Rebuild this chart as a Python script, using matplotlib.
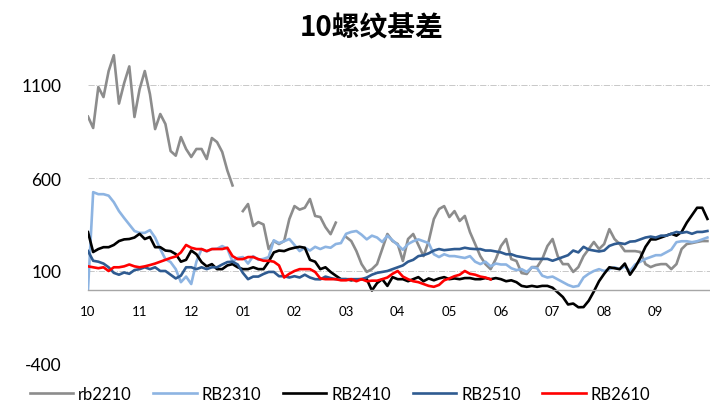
import numpy as np
import matplotlib
matplotlib.use("Agg")
import matplotlib.pyplot as plt

nan = np.nan

# month labels, 10 samples per month (Oct .. Sep)
months = ["10", "11", "12", "01", "02", "03", "04", "05", "06", "07", "08", "09"]
steps_per_month = 10

rb2210 = [930, 869, 1089, 1035, 1175, 1260, 1000, 1110, 1200, 928,
          1078, 1175, 1051, 863, 944, 890, 745, 720, 820, 756,
          713, 756, 756, 702, 815, 793, 740, 640, 560, nan,
          422, 460, 342, 363, 350, 218, 261, 245, 261, 379,
          449, 430, 440, 487, 396, 390, 336, 298, 360, nan,
          283, 261, 207, 137, 95, 110, 137, 218, 299, 261,
          245, 154, 272, 299, 240, 180, 260, 379, 433, 449,
          390, 422, 369, 396, 309, 245, 180, 137, 110, 164,
          234, 272, 164, 154, 89, 84, 121, 121, 164, 234,
          272, 180, 137, 137, 95, 121, 180, 218, 256, 218,
          245, 325, 272, 245, 207, 207, 207, 202, 137, 121,
          132, 137, 137, 110, 137, 218, 245, 250, 256, 261,
          261]

rb2310 = [0, 524, 513, 513, 505, 470, 422, 385, 350, 315,
          305, 305, 320, 280, 218, 164, 148, 110, 40, 70,
          30, 150, 218, 205, 218, 220, 234, 220, 150, 170,
          175, 140, 180, 160, 165, 175, 265, 250, 260, 272,
          240, 207, 225, 210, 230, 218, 230, 225, 245, 250,
          300, 310, 315, 295, 270, 290, 280, 256, 290, 265,
          240, 214, 245, 260, 270, 260, 250, 190, 175, 190,
          180, 180, 175, 170, 180, 150, 137, 150, 125, 140,
          135, 135, 115, 105, 110, 95, 120, 115, 75, 65,
          70, 55, 40, 25, 15, 20, 65, 85, 100, 110,
          100, 110, 120, 110, 125, 100, 135, 150, 165, 175,
          185, 185, 200, 215, 255, 260, 260, 255, 260, 270,
          280]

rb2410 = [309, 202, 218, 228, 228, 240, 261, 270, 272, 280,
          300, 272, 283, 228, 228, 210, 207, 191, 150, 160,
          210, 190, 148, 125, 137, 110, 110, 130, 137, 120,
          110, 110, 120, 110, 110, 150, 200, 210, 207, 218,
          225, 230, 225, 160, 150, 110, 120, 95, 75, 56,
          56, 50, 55, 56, 56, -5, 35, 56, 20, 67,
          56, 56, 45, 56, 67, 45, 60, 50, 60, 67,
          56, 60, 56, 62, 62, 56, 56, 62, 56, 62,
          56, 45, 50, 40, 20, 15, 20, 15, 20, 20,
          10, -15, -40, -80, -75, -95, -94, -60, -10, 45,
          85, 120, 115, 110, 140, 80, 120, 170, 230, 270,
          270, 280, 290, 300, 290, 310, 360, 400, 440, 440,
          380]

rb2510 = [207, 155, 150, 140, 120, 90, 80, 92, 85, 105,
          110, 120, 110, 120, 100, 100, 80, 60, 75, 120,
          120, 110, 120, 110, 120, 120, 135, 148, 150, 135,
          90, 56, 70, 70, 84, 95, 95, 72, 72, 65,
          72, 65, 80, 65, 56, 55, 70, 62, 56, 56,
          56, 56, 56, 56, 65, 80, 90, 95, 100, 110,
          120, 130, 150, 160, 180, 185, 195, 210, 218, 212,
          215, 218, 218, 225, 220, 218, 218, 210, 210, 205,
          200, 190, 190, 180, 175, 170, 165, 165, 165, 165,
          155, 165, 175, 185, 210, 200, 230, 215, 210, 205,
          210, 235, 245, 250, 245, 258, 260, 270, 280, 285,
          280, 290, 290, 300, 310, 305, 310, 300, 310, 310,
          315]

# RB2610 only runs until late May
rb2610 = [125, 120, 115, 120, 100, 120, 120, 125, 135, 125,
          120, 125, 132, 140, 150, 160, 170, 178, 200, 240,
          225, 218, 218, 207, 218, 218, 218, 225, 180, 164,
          164, 175, 175, 164, 155, 155, 150, 130, 65, 85,
          100, 110, 110, 110, 95, 60, 56, 56, 56, 50,
          50, 56, 45, 56, 45, 48, 48, 56, 65, 85,
          100, 70, 56, 45, 40, 30, 20, 15, 25, 50,
          60, 72, 80, 100, 85, 80, 70, 65, 55]

n = len(rb2210)
rb2610 = rb2610 + [nan] * (n - len(rb2610))
x = np.arange(n) / steps_per_month

series = [
    ("rb2210", rb2210, "#8c8c8c"),
    ("RB2310", rb2310, "#8db4e2"),
    ("RB2410", rb2410, "#000000"),
    ("RB2510", rb2510, "#2f5b91"),
    ("RB2610", rb2610, "#ff0000"),
]

plt.rcParams["font.family"] = ["Lato", "DejaVu Sans"]
plt.rcParams["axes.unicode_minus"] = False

fig = plt.figure(figsize=(7.1, 4.06), dpi=100)
ax = fig.add_axes([88 / 710, 41 / 406, 622 / 710, 325.5 / 406])

handles = []
for name, vals, color in series:
    (line,) = ax.plot(x, vals, color=color, linewidth=1.9, label=name)
    handles.append(line)

ax.set_xlim(0, 12.05)
ax.set_ylim(-400, 1350)
ax.set_yticks([-400, 100, 600, 1100])
ax.set_xticks(np.arange(len(months)))
ax.set_xticklabels(months)

ax.grid(axis="y", linestyle="-.", color="#c8c8c8", linewidth=0.7)
ax.set_axisbelow(True)
for s in ["top", "right", "left"]:
    ax.spines[s].set_visible(False)
ax.spines["bottom"].set_position(("data", 0))
ax.spines["bottom"].set_color("#a6a6a6")
ax.spines["bottom"].set_linewidth(1.0)

ax.tick_params(axis="x", length=0, pad=11, labelsize=9.5, colors="#000000")
ax.tick_params(axis="y", length=0, pad=19, labelsize=12.5)

fig.text(372 / 710, 1 - 28 / 406, "10螺纹基差", ha="center", va="center",
         fontsize=20, fontweight="bold", family=["Noto Sans CJK SC"])

fig.legend(handles=handles, loc="center", bbox_to_anchor=(340 / 710, 1 - 395 / 406),
           ncol=5, frameon=False, fontsize=12, handlelength=2.6,
           handletextpad=0.3, columnspacing=1.3)

fig.savefig("out.png", dpi=100)
